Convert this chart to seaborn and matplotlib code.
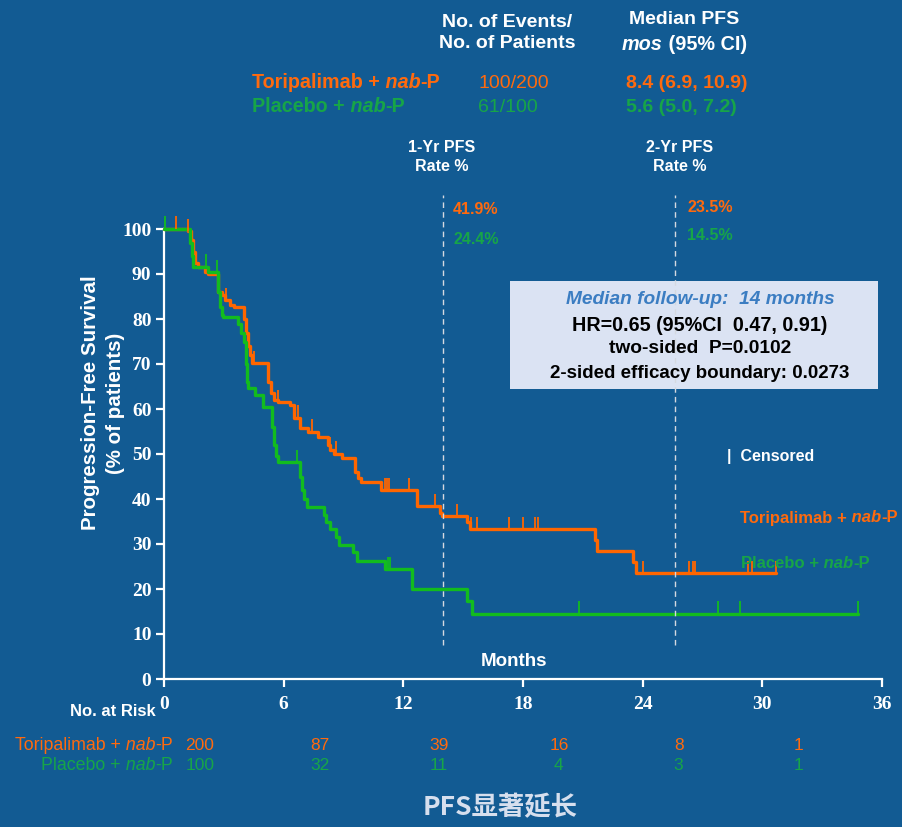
import numpy as np
import pandas as pd
import matplotlib
matplotlib.use("Agg")
import matplotlib.pyplot as plt
import matplotlib.transforms as mtrans
from matplotlib.patches import Rectangle
from matplotlib.font_manager import FontProperties
import seaborn as sns

# ---------------- data ----------------
arm_names = ["Toripalimab + nab-P", "Placebo + nab-P"]

# Kaplan-Meier step points (month, % progression-free)
tor_time = [0, 1.2, 1.35, 1.45, 1.55, 1.7, 2.05, 2.2, 2.7, 2.9,
            3.05, 3.3, 3.5, 4.0, 4.1, 4.2, 4.3, 4.4, 5.2, 5.35,
            5.5, 5.7, 6.3, 6.5, 6.8, 7.2, 7.7, 8.2, 8.3, 8.5,
            8.9, 9.6, 9.75, 9.9, 10.9, 12.7, 13.85, 13.95, 15.2, 15.35,
            21.6, 21.7, 23.5, 23.65]
tor_surv = [100, 99.5, 97.5, 95, 92.5, 91.6, 90.4, 90, 86, 85.3,
            84.2, 83.1, 82.7, 80, 77, 74, 72, 70.2, 66, 63.5,
            62, 61.5, 60.9, 58, 55.8, 54.9, 53.8, 52, 51, 50,
            49.1, 46, 44.7, 43.8, 41.9, 38.4, 37, 36.2, 34.9, 33.3,
            30.9, 28.5, 26, 23.5]
tor_last = 30.7

pla_time = [0, 1.3, 1.38, 1.45, 2.2, 2.7, 2.8, 2.9, 2.95, 3.7,
            3.85, 4.0, 4.1, 4.15, 4.2, 4.55, 4.95, 5.4, 5.5, 5.6,
            5.7, 6.8, 6.9, 7.0, 7.15, 8.0, 8.1, 8.3, 8.6, 8.75,
            9.5, 9.7, 11.1, 12.45, 15.2, 15.45]
pla_surv = [100, 97, 94, 91.6, 90.4, 86, 82.7, 81, 80.4, 79,
            77, 75, 70, 66, 64.6, 63.1, 60.4, 56, 52, 49.5,
            48.2, 45, 42, 40, 38.2, 36.5, 35, 33.3, 31.5, 29.8,
            28.3, 26.2, 24.4, 20, 17.4, 14.5]
pla_last = 34.8

# censoring times (months)
tor_censor = [0.6, 1.2, 3.1, 4.0, 4.5, 5.2, 5.7, 6.7, 7.4, 8.3, 8.6, 9.6,
              11.1, 11.2, 11.3, 12.3, 13.6, 14.7, 15.4, 15.7, 17.3, 18.0,
              18.6, 18.75, 24.0, 26.3, 26.5, 26.6, 29.3, 29.5, 30.7]
pla_censor = [0.05, 2.1, 2.65, 5.4, 6.65, 11.25, 11.35, 20.8, 27.8, 28.9, 34.8]

risk_months = [0, 6, 12, 18, 24, 30]
tor_at_risk = [200, 87, 39, 16, 8, 1]
pla_at_risk = [100, 32, 11, 4, 3, 1]

events = ["100/200", "61/100"]
medians = ["8.4 (6.9, 10.9)", "5.6 (5.0, 7.2)"]
rate_1yr = ["41.9%", "24.4%"]
rate_2yr = ["23.5%", "14.5%"]
landmarks = [14.0, 25.6]

x_ticks = [0, 6, 12, 18, 24, 30, 36]
y_ticks = [0, 10, 20, 30, 40, 50, 60, 70, 80, 90, 100]

stats_lines = ["Median follow-up:  14 months",
               "HR=0.65 (95%CI  0.47, 0.91)",
               "two-sided  P=0.0102",
               "2-sided efficacy boundary: 0.0273"]

# ---------------- style ----------------
BG = "#125b93"
ORANGE = "#ff6a0e"
ORANGE_LINE = "#ff6600"
GREEN = "#17a548"
GREEN_LINE = "#12bc1e"
WHITE = "white"

sns.set_theme(style="white")
plt.rcParams["font.family"] = ["Liberation Sans", "DejaVu Sans"]

W, H = 902, 827
fig = plt.figure(figsize=(W / 100, H / 100), dpi=100)
fig.patch.set_facecolor(BG)

ax = fig.add_axes([164 / W, 1 - 679 / H, 718 / W, 450 / H])
ax.set_facecolor(BG)


def fx(x):
    return x / W


def fy(y):
    return 1 - y / H


# ---------------- curves ----------------
frames = []
for name, t, s, last in [(arm_names[0], tor_time, tor_surv, tor_last),
                         (arm_names[1], pla_time, pla_surv, pla_last)]:
    frames.append(pd.DataFrame({"month": list(t) + [last],
                                "pfs": list(s) + [s[-1]],
                                "arm": name}))
km = pd.concat(frames, ignore_index=True)

palette = {arm_names[0]: ORANGE_LINE, arm_names[1]: GREEN_LINE}
sns.lineplot(data=km, x="month", y="pfs", hue="arm", palette=palette,
             drawstyle="steps-post", estimator=None, sort=False,
             legend=False, linewidth=2.4, ax=ax, clip_on=False, zorder=3)


def value_at(times, surv, t):
    i = np.searchsorted(np.asarray(times), t, side="right") - 1
    return np.asarray(surv)[i]


for times, surv, cens, col in [(tor_time, tor_surv, tor_censor, ORANGE_LINE),
                               (pla_time, pla_surv, pla_censor, GREEN_LINE)]:
    ys = value_at(times, surv, np.asarray(cens))
    ax.vlines(cens, ys, ys + 2.8, colors=col, linewidth=1.3,
              clip_on=False, zorder=3)

# ---------------- axes ----------------
ax.set_xlim(0, 36)
ax.set_ylim(0, 100)
ax.set_xticks(x_ticks)
ax.set_yticks(y_ticks)
ax.set_xlabel("")
ax.set_ylabel("")
for side in ["top", "right"]:
    ax.spines[side].set_visible(False)
for side in ["left", "bottom"]:
    ax.spines[side].set_color(WHITE)
    ax.spines[side].set_linewidth(1.6)
ax.tick_params(axis="both", colors=WHITE, length=6, width=1.6,
               direction="out", left=True, bottom=True)
ax.tick_params(axis="x", pad=6)
ax.tick_params(axis="y", pad=3)
tick_font = FontProperties(family="Liberation Serif", weight="bold", size=14)
for lbl in ax.get_xticklabels() + ax.get_yticklabels():
    lbl.set_fontproperties(tick_font)
    lbl.set_color(WHITE)
ax.grid(False)

# landmark lines with a stats box behind the second one
box = Rectangle((fx(510), fy(389)), fx(878) - fx(510), (389 - 281) / H,
                transform=fig.transFigure, facecolor="#dbe3f3",
                edgecolor="none", zorder=4, clip_on=False)
ax.add_patch(box)
ax.vlines(landmarks, 7.5, 107.5, colors="#d5d9e0", linewidth=1.0,
          linestyles=(0, (4, 3)), clip_on=False, zorder=5)

# ---------------- text helpers ----------------
def chain(x, y, parts, size, color, align="left"):
    """Draw a run of differently styled pieces that sit side by side."""
    if align == "left":
        style, weight = parts[0][1], parts[0][2]
        prev = fig.text(fx(x), fy(y), parts[0][0], ha="left", va="center",
                        fontsize=size, color=color, style=style,
                        fontweight=weight)
        for txt, style, weight in parts[1:]:
            prev = ax.annotate(txt, xy=(1, 0.5), xycoords=prev, ha="left",
                               va="center", fontsize=size, color=color,
                               style=style, fontweight=weight,
                               annotation_clip=False)
    else:
        rev = parts[::-1]
        style, weight = rev[0][1], rev[0][2]
        prev = fig.text(fx(x), fy(y), rev[0][0], ha="right", va="center",
                        fontsize=size, color=color, style=style,
                        fontweight=weight)
        for txt, style, weight in rev[1:]:
            prev = ax.annotate(txt, xy=(0, 0.5), xycoords=prev, ha="right",
                               va="center", fontsize=size, color=color,
                               style=style, fontweight=weight,
                               annotation_clip=False)


def arm_parts(name, weight):
    head, tail = name.split(" nab")
    return [(head, "normal", weight), (" nab", "italic", weight),
            (tail, "normal", weight)]


# ---------------- header ----------------
fig.text(fx(507), fy(33), "No. of Events/\nNo. of Patients", ha="center",
         va="center", fontsize=14, fontweight="bold", color=WHITE,
         linespacing=1.35)
fig.text(fx(684), fy(20), "Median PFS", ha="center", va="center",
         fontsize=14, fontweight="bold", color=WHITE)
chain(622, 45, [("mos", "italic", "bold"), (" (95% CI)", "normal", "bold")],
      14.3, WHITE)

for i, (yy, col) in enumerate([(83, ORANGE), (107, GREEN)]):
    chain(252, yy, arm_parts(arm_names[i], "bold"), 14.2, col)
    fig.text(fx(478), fy(yy), events[i], ha="left", va="center",
             fontsize=14, color=col)
    fig.text(fx(626), fy(yy), medians[i], ha="left", va="center",
             fontsize=14, fontweight="bold", color=col)

# landmark rate labels
for xc, label in [(442, "1-Yr PFS\nRate %"), (680, "2-Yr PFS\nRate %")]:
    fig.text(fx(xc), fy(157), label, ha="center", va="center",
             fontsize=11.5, fontweight="bold", color=WHITE, linespacing=1.3)
fig.text(fx(453), fy(209), rate_1yr[0], ha="left", va="center",
         fontsize=11.5, fontweight="bold", color=ORANGE)
fig.text(fx(453), fy(240), rate_1yr[1], ha="left", va="center",
         fontsize=11.5, fontweight="bold", color=GREEN)
fig.text(fx(687), fy(207), rate_2yr[0], ha="left", va="center",
         fontsize=11.5, fontweight="bold", color=ORANGE)
fig.text(fx(687), fy(235), rate_2yr[1], ha="left", va="center",
         fontsize=11.5, fontweight="bold", color=GREEN)

# stats box text
fig.text(fx(700), fy(300), stats_lines[0], ha="center", va="center",
         fontsize=13.8, fontweight="bold", style="italic", color="#3b7dc2",
         zorder=6)
for yy, line, sz in zip([325, 349, 374], stats_lines[1:], [14.2, 13.8, 13.5]):
    fig.text(fx(700), fy(yy), line, ha="center", va="center",
             fontsize=sz, fontweight="bold", color="black", zorder=6)

# censor key and curve labels
fig.text(fx(727), fy(456), "|  Censored", ha="left", va="center",
         fontsize=11.5, fontweight="bold", color=WHITE)
chain(740, 518, arm_parts(arm_names[0], "bold"), 12, ORANGE)
chain(741, 563, arm_parts(arm_names[1], "bold"), 12, GREEN)

# axis titles
fig.text(fx(514), fy(661), "Months", ha="center", va="center",
         fontsize=13.5, fontweight="bold", color=WHITE)
fig.text(fx(103), fy(403), "Progression-Free Survival\n(% of patients)",
         rotation=90, ha="center", va="center", multialignment="center",
         fontsize=14.8, fontweight="bold", color=WHITE, linespacing=1.4)

# ---------------- number at risk ----------------
fig.text(fx(70), fy(711), "No. at Risk", ha="left", va="center",
         fontsize=12, fontweight="bold", color=WHITE)
risk_tf = mtrans.blended_transform_factory(ax.transData, fig.transFigure)
for i, (yy, col, counts) in enumerate([(746, ORANGE, tor_at_risk),
                                       (766, GREEN, pla_at_risk)]):
    chain(173, yy, arm_parts(arm_names[i], "normal"), 12.8, col,
          align="right")
    for m, n in zip(risk_months, counts):
        ax.text(m + 1.8, fy(yy), str(n), transform=risk_tf, ha="center",
                va="center", fontsize=12.5, color=col, clip_on=False)

# ---------------- caption ----------------
fig.text(fx(500), fy(808), "PFS显著延长", ha="center", va="center",
         fontsize=19, fontweight="bold", color="#d6dfee",
         family=["Noto Sans CJK SC", "DejaVu Sans"])

fig.savefig("out.png", dpi=100, facecolor=BG)
